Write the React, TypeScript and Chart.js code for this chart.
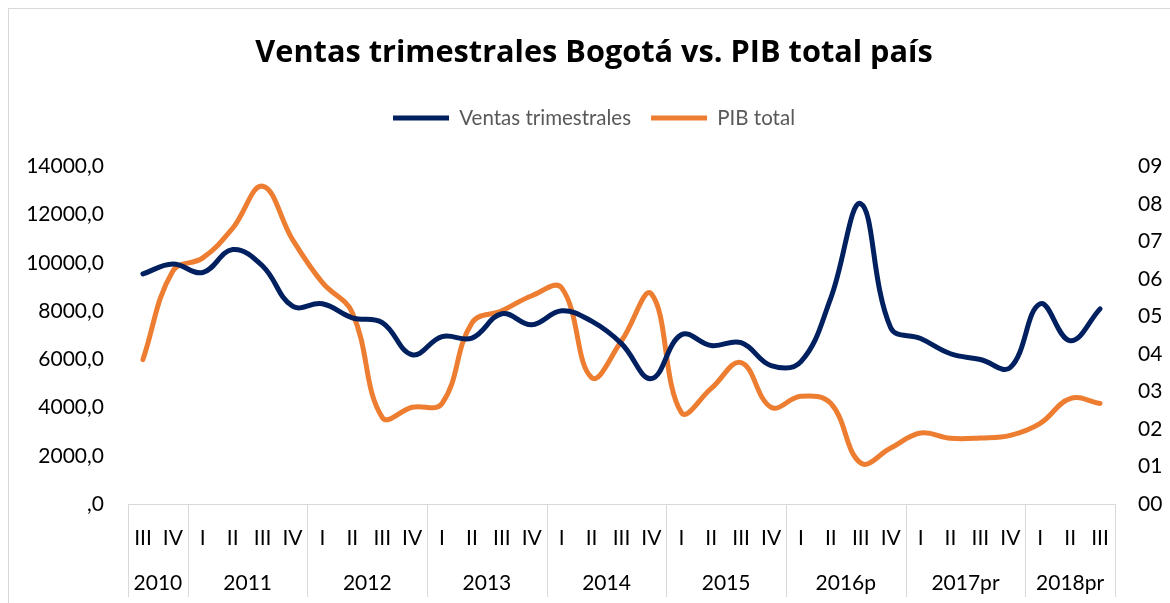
import React, { useEffect, useRef } from 'react';
import { Chart, registerables } from 'chart.js';

Chart.register(...registerables);

const quarters = [
  'III', 'IV',
  'I', 'II', 'III', 'IV',
  'I', 'II', 'III', 'IV',
  'I', 'II', 'III', 'IV',
  'I', 'II', 'III', 'IV',
  'I', 'II', 'III', 'IV',
  'I', 'II', 'III', 'IV',
  'I', 'II', 'III', 'IV',
  'I', 'II', 'III',
];
const yearLabels = ['2010', '2011', '2012', '2013', '2014', '2015', '2016p', '2017pr', '2018pr'];
const quartersPerYear = [2, 4, 4, 4, 4, 4, 4, 4, 3];

const ventas = [
  9540, 9950,
  9600, 10550, 9870, 8200,
  8300, 7720, 7520, 6190,
  6940, 6880, 7890, 7430,
  8010, 7580, 6650, 5200,
  7020, 6570, 6690, 5740,
  5900, 8550, 12450, 7310,
  6860, 6230, 5990, 5660,
  8300, 6770, 8090,
];
const pib = [
  3.85, 6.21,
  6.56, 7.35, 8.47, 7.05,
  5.9, 5.1, 2.31, 2.58,
  2.68, 4.83, 5.15, 5.55,
  5.76, 3.37, 4.35, 5.6,
  2.44, 3.08, 3.77, 2.58,
  2.87, 2.68, 1.09, 1.49,
  1.89, 1.75, 1.76, 1.83,
  2.15, 2.81, 2.68,
];

const leftMax = 14000;
const leftStep = 2000;
const rightMax = 9;
const rightStep = 1;

const FONT = 'Lato';
const TITLE_FONT = "'Open Sans'";
const W = 1172;
const H = 620;

export default function App() {
  const ref = useRef<HTMLCanvasElement>(null);

  useEffect(() => {
    document.documentElement.style.overflow = 'hidden';
    document.body.style.margin = '8px 0 0 8px';
    const canvas = ref.current;
    if (!canvas) return;

    const legendSpacer = {
      id: 'legendSpacer',
      beforeInit(chart: any) {
        const legend = chart.legend;
        if (!legend) return;
        const orig = legend.fit;
        legend.fit = function () {
          orig.bind(legend)();
          this.height += 28;
        };
      },
    };

    const frame = {
      id: 'frame',
      beforeDraw(chart: any) {
        const ctx = chart.ctx;
        ctx.save();
        ctx.fillStyle = '#ffffff';
        ctx.fillRect(0, 0, chart.width, chart.height);
        ctx.strokeStyle = '#d9d9d9';
        ctx.lineWidth = 1;
        ctx.strokeRect(0.5, 0.5, chart.width - 1, chart.height - 1);
        ctx.restore();
      },
    };

    const yearAxis = {
      id: 'yearAxis',
      afterDraw(chart: any) {
        const xs = chart.scales.x;
        const ctx = chart.ctx;
        const n = quarters.length;
        const cw = (xs.right - xs.left) / n;
        ctx.save();
        ctx.strokeStyle = '#d9d9d9';
        ctx.lineWidth = 1;
        const bounds = [0];
        let acc = 0;
        quartersPerYear.forEach((c) => {
          acc += c;
          bounds.push(acc);
        });
        bounds.forEach((b) => {
          const px = Math.round(xs.left + b * cw) + 0.5;
          ctx.beginPath();
          ctx.moveTo(px, xs.top);
          ctx.lineTo(px, xs.top + 93);
          ctx.stroke();
        });
        ctx.fillStyle = '#000000';
        ctx.font = `21px ${FONT}`;
        ctx.textAlign = 'center';
        ctx.textBaseline = 'middle';
        let start = 0;
        yearLabels.forEach((y, i) => {
          const c = quartersPerYear[i];
          const cx = xs.left + (start + c / 2) * cw;
          ctx.fillText(y, cx, xs.top + 79);
          start += c;
        });
        ctx.restore();
      },
    };

    const chart = new Chart(canvas, {
      type: 'line',
      data: {
        labels: quarters,
        datasets: [
          {
            label: 'Ventas trimestrales',
            data: ventas,
            borderColor: '#002060',
            backgroundColor: '#002060',
            borderWidth: 5,
            pointRadius: 0,
            tension: 0.4,
            yAxisID: 'y',
            borderCapStyle: 'round',
          },
          {
            label: 'PIB total',
            data: pib,
            borderColor: '#ED7D31',
            backgroundColor: '#ED7D31',
            borderWidth: 5,
            pointRadius: 0,
            tension: 0.4,
            yAxisID: 'y1',
            borderCapStyle: 'round',
          },
        ],
      },
      options: {
        responsive: false,
        animation: false,
        devicePixelRatio: 1,
        layout: { padding: 0 },
        plugins: {
          title: {
            display: true,
            text: 'Ventas trimestrales Bogotá vs. PIB total país',
            color: '#000000',
            font: { family: TITLE_FONT, size: 30.7, weight: 'bold' },
            padding: { top: 27, bottom: 16 },
          },
          legend: {
            display: true,
            position: 'top',
            labels: {
              boxWidth: 56,
              boxHeight: 5,
              padding: 20,
              color: '#595959',
              font: { family: FONT, size: 20.5 },
              generateLabels: (c: any) =>
                c.data.datasets.map((ds: any, i: number) => ({
                  text: ds.label,
                  fillStyle: ds.borderColor,
                  strokeStyle: ds.borderColor,
                  lineWidth: 0,
                  hidden: false,
                  datasetIndex: i,
                  fontColor: '#595959',
                })),
            },
          },
          tooltip: { enabled: false },
        },
        scales: {
          x: {
            type: 'category',
            offset: true,
            grid: { display: false, drawTicks: false },
            border: { display: true, color: '#d9d9d9', width: 1 },
            ticks: {
              autoSkip: false,
              maxRotation: 0,
              minRotation: 0,
              padding: 22,
              color: '#000000',
              font: { family: FONT, size: 21 },
            },
            afterFit: (s: any) => {
              s.height = 124;
            },
          },
          y: {
            type: 'linear',
            position: 'left',
            min: 0,
            max: leftMax,
            grid: { display: false, drawTicks: false },
            border: { display: false },
            ticks: {
              stepSize: leftStep,
              padding: 24,
              color: '#000000',
              font: { family: FONT, size: 21 },
              callback: (v: any) => (Number(v) === 0 ? ',0' : `${v},0`),
            },
            afterFit: (s: any) => {
              s.width = 120;
            },
          },
          y1: {
            type: 'linear',
            position: 'right',
            min: 0,
            max: rightMax,
            grid: { display: false, drawTicks: false },
            border: { display: false },
            ticks: {
              stepSize: rightStep,
              padding: 23,
              color: '#000000',
              font: { family: FONT, size: 21 },
              callback: (v: any) => String(v).padStart(2, '0'),
            },
            afterFit: (s: any) => {
              s.width = 65;
            },
          },
        },
      },
      plugins: [legendSpacer, frame, yearAxis],
    } as any);

    return () => {
      chart.destroy();
    };
  }, []);

  return (
    <div style={{ width: W, height: H }}>
      <canvas ref={ref} width={W} height={H} style={{ display: 'block' }} />
    </div>
  );
}
